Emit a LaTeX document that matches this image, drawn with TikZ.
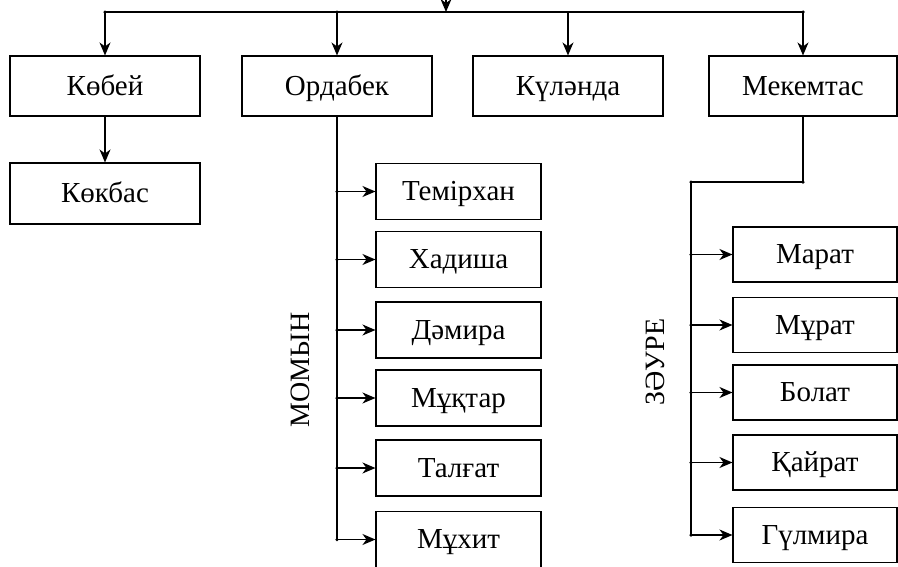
\documentclass[tikz,border=0pt]{standalone}
\usepackage{fontspec}
\setmainfont{Liberation Serif}
\usetikzlibrary{arrows.meta}
\begin{document}
\begin{tikzpicture}[x=1pt,y=-1pt,
  box/.style={draw,line width=1.1pt,minimum height=56pt,inner sep=0pt,text height=23pt,text depth=5pt,font=\fontsize{29}{32}\selectfont},
  topbox/.style={box,minimum width=190pt,minimum height=60pt},
  kid/.style={box,minimum width=165pt},
  arr/.style={line width=1.3pt,-{Stealth[length=13pt,width=11pt,inset=4pt]}},
  ln/.style={line width=1.3pt},
  dot/.style={circle,fill,inner sep=0pt,minimum size=3.5pt},
  side/.style={rotate=90,font=\fontsize{28}{30}\selectfont}]
\useasboundingbox (0,0) rectangle (898,566);
% top row
\node[topbox] (kob) at (105,86) {Көбей};
\node[topbox] (ord) at (337,86) {Ордабек};
\node[topbox] (kul) at (568,86) {Күләнда};
\node[topbox,minimum width=188pt] (mek) at (803,86) {Мекемтас};
\node[topbox,minimum height=61pt] (kok) at (105,193.5) {Көкбас};
% top bar
\coordinate (tin) at (446,-2);
\coordinate (tl) at (105,12);
\coordinate (tr) at (803,12);
\coordinate (tm) at (446,12);
\draw[ln] (tl) -- (tr);
\draw[arr] (tin) -- (tm);
\foreach \n in {kob,ord,kul,mek} \draw[arr] (\n.north |- tl) -- (\n.north);
\node[dot] at (tl) {};
\node[dot] at (ord.north |- tl) {};
\node[dot] at (tr) {};
\draw[arr] (kob.south) -- (kok.north);
% Ordabek children
\node[kid] (tem) at (458.5,191.5) {Темірхан};
\node[kid] (had) at (458.5,259.5) {Хадиша};
\node[kid] (dam) at (458.5,330) {Дәмира};
\node[kid] (muk) at (458.5,398) {Мұқтар};
\node[kid] (tal) at (458.5,468) {Талғат};
\node[kid] (muh) at (458.5,539.5) {Мұхит};
\draw[ln] (ord.south) -- (ord.south |- muh.west);
\foreach \n in {tem,had,dam,muk,tal,muh} {
  \draw[arr] (ord.south |- \n.west) -- (\n.west);
  \node[dot] at (ord.south |- \n.west) {};
}
\node[side] (mom) at (300,370) {МОМЫН};
% Mekemtas children
\node[kid,minimum width=164pt,minimum height=55pt] (mar) at (815,254.5) {Марат};
\node[kid,minimum width=164pt,minimum height=55pt] (mur) at (815,325) {Мұрат};
\node[kid,minimum width=164pt,minimum height=55pt] (bol) at (815,392.5) {Болат};
\node[kid,minimum width=164pt,minimum height=55pt] (kai) at (815,462.5) {Қайрат};
\node[kid,minimum width=164pt,minimum height=55pt] (gul) at (815,535) {Гүлмира};
\coordinate (mc) at (803,182);
\coordinate (sc) at (691,182);
\draw[ln] (mek.south) -- (mc) -- (sc) -- (sc |- gul.west);
\node[dot] at (mc) {};
\node[dot] at (sc) {};
\foreach \n in {mar,mur,bol,kai,gul} {
  \draw[arr] (sc |- \n.west) -- (\n.west);
  \node[dot] at (sc |- \n.west) {};
}
\node[side] (zau) at (655,362) {ЗӘУРЕ};
\end{tikzpicture}
\end{document}
